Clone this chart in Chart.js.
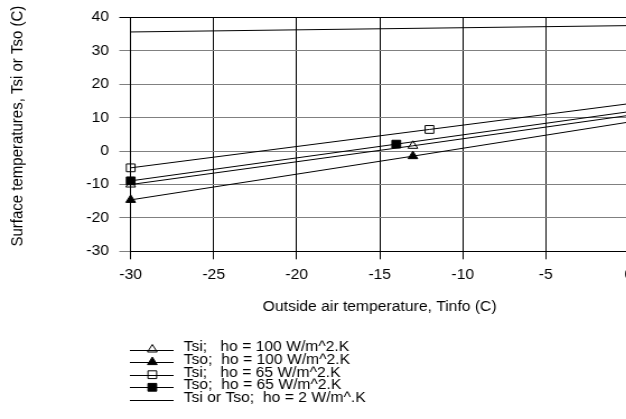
<!DOCTYPE html>
<html>
<head>
<meta charset="utf-8">
<title>Surface temperatures</title>
<script src="https://cdn.jsdelivr.net/npm/chart.js"></script>
<style>
  html, body { margin: 0; padding: 0; background: #fff; overflow: hidden; }
  /* the original figure is stretched sideways a little, so the whole canvas is too */
  #wrap { width: 575px; height: 419px; transform: scaleX(1.12); transform-origin: 0 0; }
</style>
</head>
<body>
<div id="wrap"><canvas id="chart" width="575" height="419"></canvas></div>
<script>
// values
const xTicks = [-30, -25, -20, -15, -10, -5, 0];
const yTicks = [-30, -20, -10, 0, 10, 20, 30, 40];

const tsi100X = [-30, -13, 0];
const tsi100Y = [-10.0, 1.6, 10.7];
const tso100X = [-30, -13, 0];
const tso100Y = [-14.6, -1.5, 8.7];
const tsi65X = [-30, -12, 0];
const tsi65Y = [-5.0, 6.5, 14.2];
const tso65X = [-30, -14, 0];
const tso65Y = [-8.9, 2.1, 11.8];
const ho2X = [-30, 0];
const ho2Y = [35.7, 37.6];

const seriesLabels = [
    'Tsi;   ho = 100 W/m^2.K',
    'Tso;  ho = 100 W/m^2.K',
    'Tsi;   ho = 65 W/m^2.K',
    'Tso;  ho = 65 W/m^2.K',
    'Tsi or Tso;  ho = 2 W/m^.K'
];
const xTitle = 'Outside air temperature, Tinfo (C)';
const yTitle = 'Surface temperatures, Tsi or Tso (C)';

const FONT = "'Liberation Sans', Arial, sans-serif";
Chart.defaults.font.family = FONT;
Chart.defaults.font.size = 14;
Chart.defaults.color = '#000';

function pts(xs, ys) {
    return xs.map((x, i) => ({ x: x, y: ys[i] }));
}

// markers only on the first two points of each series (last one sits off the edge)
function series(label, xs, ys, style, radius, filled) {
    return {
        label: label,
        data: pts(xs, ys),
        showLine: true,
        borderColor: '#000',
        borderWidth: 1,
        backgroundColor: filled ? '#000' : 'rgba(0,0,0,0)',
        pointStyle: style,
        pointRadius: xs.map((x, i) => (style && i < xs.length - 1) ? radius : 0),
        pointBorderWidth: 1,
        markerRadius: radius,
        clip: false
    };
}

const datasets = [
    series(seriesLabels[0], tsi100X, tsi100Y, 'triangle', 5, false),
    series(seriesLabels[1], tso100X, tso100Y, 'triangle', 5, true),
    series(seriesLabels[2], tsi65X, tsi65Y, 'rect', 5.5, false),
    series(seriesLabels[3], tso65X, tso65Y, 'rect', 5.5, true),
    series(seriesLabels[4], ho2X, ho2Y, false, 0, false)
];

// legend under the chart: line sample, marker, text
const legendPlugin = {
    id: 'lineLegend',
    afterDraw(chart) {
        const ctx = chart.ctx;
        const x0 = 116, x1 = 155, mx = 136, tx = 164;
        const top = 349.5, step = 12.6;
        chart.data.datasets.forEach((ds, i) => {
            const y = top + i * step;
            ctx.save();
            ctx.strokeStyle = '#000';
            ctx.fillStyle = ds.backgroundColor;
            ctx.lineWidth = 1;
            ctx.beginPath();
            ctx.moveTo(x0, Math.round(y) + 0.5);
            ctx.lineTo(x1, Math.round(y) + 0.5);
            ctx.stroke();
            if (ds.pointStyle) {
                Chart.helpers.drawPoint(ctx, { pointStyle: ds.pointStyle, radius: ds.markerRadius, borderWidth: 1, rotation: 0 }, mx, y);
            }
            ctx.fillStyle = '#000';
            ctx.font = '14px ' + FONT;
            ctx.textAlign = 'left';
            ctx.textBaseline = 'middle';
            ctx.fillText(ds.label, tx, y - 2);
            ctx.restore();
        });
    }
};

const ctx = document.getElementById('chart').getContext('2d');
new Chart(ctx, {
    type: 'scatter',
    data: { datasets: datasets },
    options: {
        responsive: false,
        animation: false,
        events: [],
        layout: { padding: { left: 0, right: 13.7, top: 14.3, bottom: 0 } },
        plugins: { legend: { display: false }, tooltip: { enabled: false } },
        scales: {
            x: {
                type: 'linear',
                min: -30,
                max: 0,
                afterBuildTicks: s => { s.ticks = xTicks.map(v => ({ value: v })); },
                afterFit: s => { s.height = 419 - 251.3; },
                ticks: { padding: 7, color: '#000' },
                grid: { color: '#000', lineWidth: 1, tickLength: 8 },
                border: { color: '#000', width: 1 },
                title: { display: true, text: xTitle, color: '#000', font: { size: 14 }, padding: { top: 0, bottom: 103 } }
            },
            y: {
                type: 'linear',
                min: -30,
                max: 40,
                afterBuildTicks: s => { s.ticks = yTicks.map(v => ({ value: v })); },
                afterFit: s => { s.width = 116.7; },
                ticks: { padding: 9.2, color: '#000' },
                grid: {
                    color: c => (c.tick && c.tick.value === 40) ? '#000' : '#808080',
                    lineWidth: 1,
                    tickLength: 10.2
                },
                border: { color: '#000', width: 1 },
                title: { display: true, text: '    ' + yTitle, color: '#000', font: { size: 15 }, padding: { top: 7.3, bottom: 0 } }
            }
        }
    },
    plugins: [legendPlugin]
});
</script>
</body>
</html>
